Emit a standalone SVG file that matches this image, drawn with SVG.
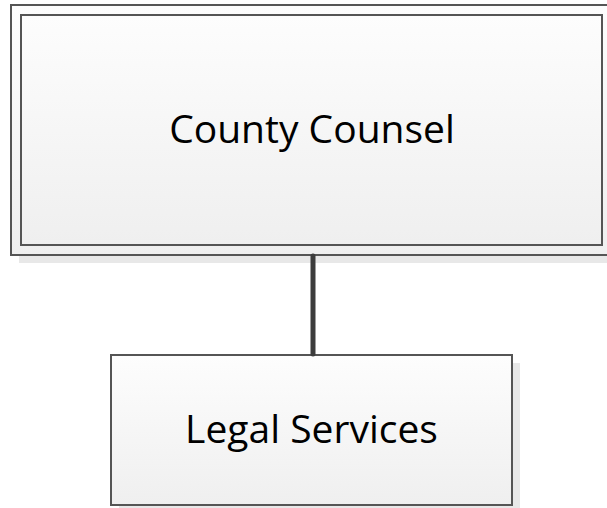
<svg xmlns="http://www.w3.org/2000/svg" width="607" height="508" viewBox="0 0 607 508">
<defs>
<linearGradient id="fill" x1="0" y1="0" x2="0" y2="1">
<stop offset="0" stop-color="#fdfdfd"/>
<stop offset="1" stop-color="#efefef"/>
</linearGradient>
<style>
.shadow{fill:#e8e8e8;stroke:none}
.box{fill:url(#fill);stroke:#555555;stroke-width:2}
.label{font-family:"Open Sans","Liberation Sans",sans-serif;font-size:39px;fill:#000000;text-anchor:middle}
.conn{stroke:#3c3c3c;stroke-width:5;stroke-linecap:round;fill:none}
</style>
</defs>
<rect width="607" height="508" fill="#ffffff"/>
<g id="county-counsel">
<rect class="shadow" x="19" y="13" width="600" height="250"/>
<rect class="box" x="11" y="5" width="610" height="250"/>
<rect class="box" x="21" y="15" width="581" height="230"/>
<text class="label" x="312" y="143">County Counsel</text>
</g>
<g id="legal-services">
<rect class="shadow" x="119" y="363" width="401" height="150"/>
<rect class="box" x="111" y="355" width="401" height="150"/>
<text class="label" x="311.5" y="443">Legal Services</text>
</g>
<g id="connectors">
<line class="conn" x1="313" y1="256" x2="313" y2="354"/>
</g>
</svg>
